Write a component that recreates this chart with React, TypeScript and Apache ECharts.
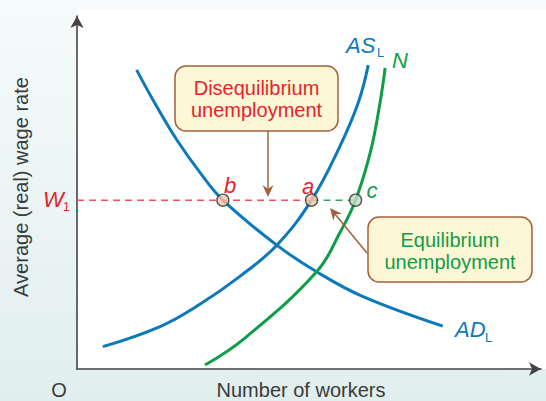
import React, { useEffect, useRef } from 'react';
import * as echarts from 'echarts';

// Aggregate labour demand curve (AD_L)
const adX = [12.7, 17.0, 21.3, 26.2, 31.1, 42.6, 51.1, 61.0, 78.0];
const adY = [83.1, 72.9, 63.6, 54.6, 46.9, 34.4, 27.0, 20.1, 11.9];
// Aggregate labour supply curve (AS_L)
const asX = [5.5, 17.7, 26.2, 34.8, 42.6, 50.0, 56.1, 60.0, 62.1];
const asY = [6.2, 11.8, 18.0, 25.8, 34.4, 46.9, 62.0, 74.1, 84.4];
// Labour force curve (N)
const nX = [27.3, 35.8, 51.1, 56.1, 59.4, 62.6, 64.6, 65.7];
const nY = [1.1, 8.6, 27.0, 38.0, 46.9, 60.5, 73.9, 83.6];
// Wage level W1 and the points on it
const wageLevel = 46.9;
const pointNames = ['b', 'a', 'c'];
const pointX = [31.1, 50.0, 59.4];

const FONT = '"Liberation Sans", Arial, Helvetica, sans-serif';
const BLUE = '#0d79bd';
const GREEN = '#0f9d4a';
const RED = '#e8222c';
const BROWN = '#a65f3a';
const TXT = '#3a3a3a';

function zip(xs: number[], ys: number[]) {
  return xs.map((x, i) => [x, ys[i]]);
}

export default function App() {
  const ref = useRef<HTMLDivElement>(null);
  useEffect(() => {
    document.body.style.margin = '0';
    const chart = echarts.init(ref.current!, null, { renderer: 'svg' });

    const t = (text: string, x: number, y: number, size: number, fill: string, extra: any = {}) => ({
      type: 'text',
      x,
      y,
      z: 100,
      style: {
        text,
        font: `${extra.italic ? 'italic ' : ''}${size}px ${FONT}`,
        fill,
        align: extra.align || 'center',
        verticalAlign: 'middle',
      },
      rotation: extra.rotation || 0,
    });

    // arrow 2 geometry
    const tip = [330, 208];
    const from = [367, 253];
    const dx = tip[0] - from[0];
    const dy = tip[1] - from[1];
    const len = Math.sqrt(dx * dx + dy * dy);
    const ux = dx / len, uy = dy / len;
    const px = -uy, py = ux;
    const base = [tip[0] - 12 * ux, tip[1] - 12 * uy];
    const notch = [tip[0] - 8 * ux, tip[1] - 8 * uy];

    chart.setOption({
      animation: false,
      backgroundColor: 'transparent',
      grid: { left: 77, top: 16, right: 5, bottom: 32 },
      xAxis: {
        type: 'value',
        min: 0,
        max: 98.93,
        axisLine: { show: true, symbol: ['none', 'arrow'], symbolSize: [10, 12], lineStyle: { color: '#444', width: 1.6 } },
        axisTick: { show: false },
        axisLabel: { show: false },
        splitLine: { show: false },
      },
      yAxis: {
        type: 'value',
        min: 0,
        max: 98.06,
        axisLine: { show: true, symbol: ['none', 'arrow'], symbolSize: [10, 12], lineStyle: { color: '#444', width: 1.6 } },
        axisTick: { show: false },
        axisLabel: { show: false },
        splitLine: { show: false },
      },
      series: [
        {
          type: 'line', data: zip(adX, adY), smooth: 0.4, showSymbol: false, silent: true,
          lineStyle: { color: BLUE, width: 3 },
        },
        {
          type: 'line', data: zip(asX, asY), smooth: 0.4, showSymbol: false, silent: true,
          lineStyle: { color: BLUE, width: 3 },
        },
        {
          type: 'line', data: zip(nX, nY), smooth: 0.4, showSymbol: false, silent: true,
          lineStyle: { color: GREEN, width: 3 },
        },
        {
          type: 'line', data: [[0, wageLevel], [pointX[1], wageLevel]], showSymbol: false, silent: true,
          lineStyle: { color: '#f0535b', width: 1.5, type: [7, 5] },
        },
        {
          type: 'line', data: [[pointX[1], wageLevel], [pointX[2], wageLevel]], showSymbol: false, silent: true,
          lineStyle: { color: '#3c9e64', width: 1.5, type: [7, 5] },
        },
        {
          type: 'scatter', z: 5, symbolSize: 12, silent: true,
          data: pointNames.map((n, i) => ({
            name: n,
            value: [pointX[i], wageLevel],
            itemStyle: {
              color: n === 'c' ? '#c6dfcb' : '#f7c5ad',
              borderColor: '#333',
              borderWidth: 1.4,
            },
          })),
        },
      ],
      graphic: [
        { type: 'rect', z: -100, shape: { x: 77, y: 9, width: 469, height: 360 }, style: { fill: '#ffffff' } },
        // axis titles
        t('O', 59, 390, 20, TXT),
        t('Number of workers', 301, 390, 20, TXT),
        t('Average (real) wage rate', 21, 187, 20, TXT, { rotation: Math.PI / 2 }),
        // curve labels
        t('AS', 346, 45, 22, BLUE, { italic: true, align: 'left' }),
        t('L', 377, 52.5, 13, BLUE, { align: 'left' }),
        t('N', 400, 60, 22, GREEN, { italic: true }),
        t('AD', 455, 329, 22, BLUE, { italic: true, align: 'left' }),
        t('L', 485, 337, 13, BLUE, { align: 'left' }),
        t('W', 43, 199.5, 22, RED, { italic: true, align: 'left' }),
        t('1', 63, 207, 12, RED, { align: 'left' }),
        t('b', 230, 185, 22, RED, { italic: true }),
        t('a', 308, 186, 22, RED, { italic: true }),
        t('c', 372, 190, 22, GREEN, { italic: true }),
        // disequilibrium box
        {
          type: 'rect', z: 90,
          shape: { x: 175, y: 66, width: 163, height: 65, r: 11 },
          style: { fill: '#fdf7d5', stroke: BROWN, lineWidth: 1.5 },
        },
        t('Disequilibrium', 256.5, 88, 20, RED),
        t('unemployment', 256.5, 110, 20, RED),
        // equilibrium box
        {
          type: 'rect', z: 90,
          shape: { x: 368, y: 217, width: 164, height: 65, r: 11 },
          style: { fill: '#fdf7d5', stroke: BROWN, lineWidth: 1.5 },
        },
        t('Equilibrium', 450, 240, 20, GREEN),
        t('unemployment', 450, 262, 20, GREEN),
        // arrow 1
        { type: 'line', z: 95, shape: { x1: 268, y1: 131, x2: 268, y2: 189 }, style: { stroke: BROWN, lineWidth: 1.5 } },
        {
          type: 'polygon', z: 95,
          shape: { points: [[268, 197], [262.5, 185], [268, 189], [273.5, 185]] },
          style: { fill: BROWN },
        },
        // arrow 2
        { type: 'line', z: 95, shape: { x1: from[0], y1: from[1], x2: notch[0], y2: notch[1] }, style: { stroke: BROWN, lineWidth: 1.5 } },
        {
          type: 'polygon', z: 95,
          shape: {
            points: [
              tip,
              [base[0] + 5.5 * px, base[1] + 5.5 * py],
              notch,
              [base[0] - 5.5 * px, base[1] - 5.5 * py],
            ],
          },
          style: { fill: BROWN },
        },
      ],
    });
    return () => chart.dispose();
  }, []);
  return (
    <div
      ref={ref}
      style={{
        position: 'absolute',
        left: 0,
        top: 0,
        width: 546,
        height: 401,
        background: 'linear-gradient(#f6fbfb, #e0efee)',
      }}
    />
  );
}
